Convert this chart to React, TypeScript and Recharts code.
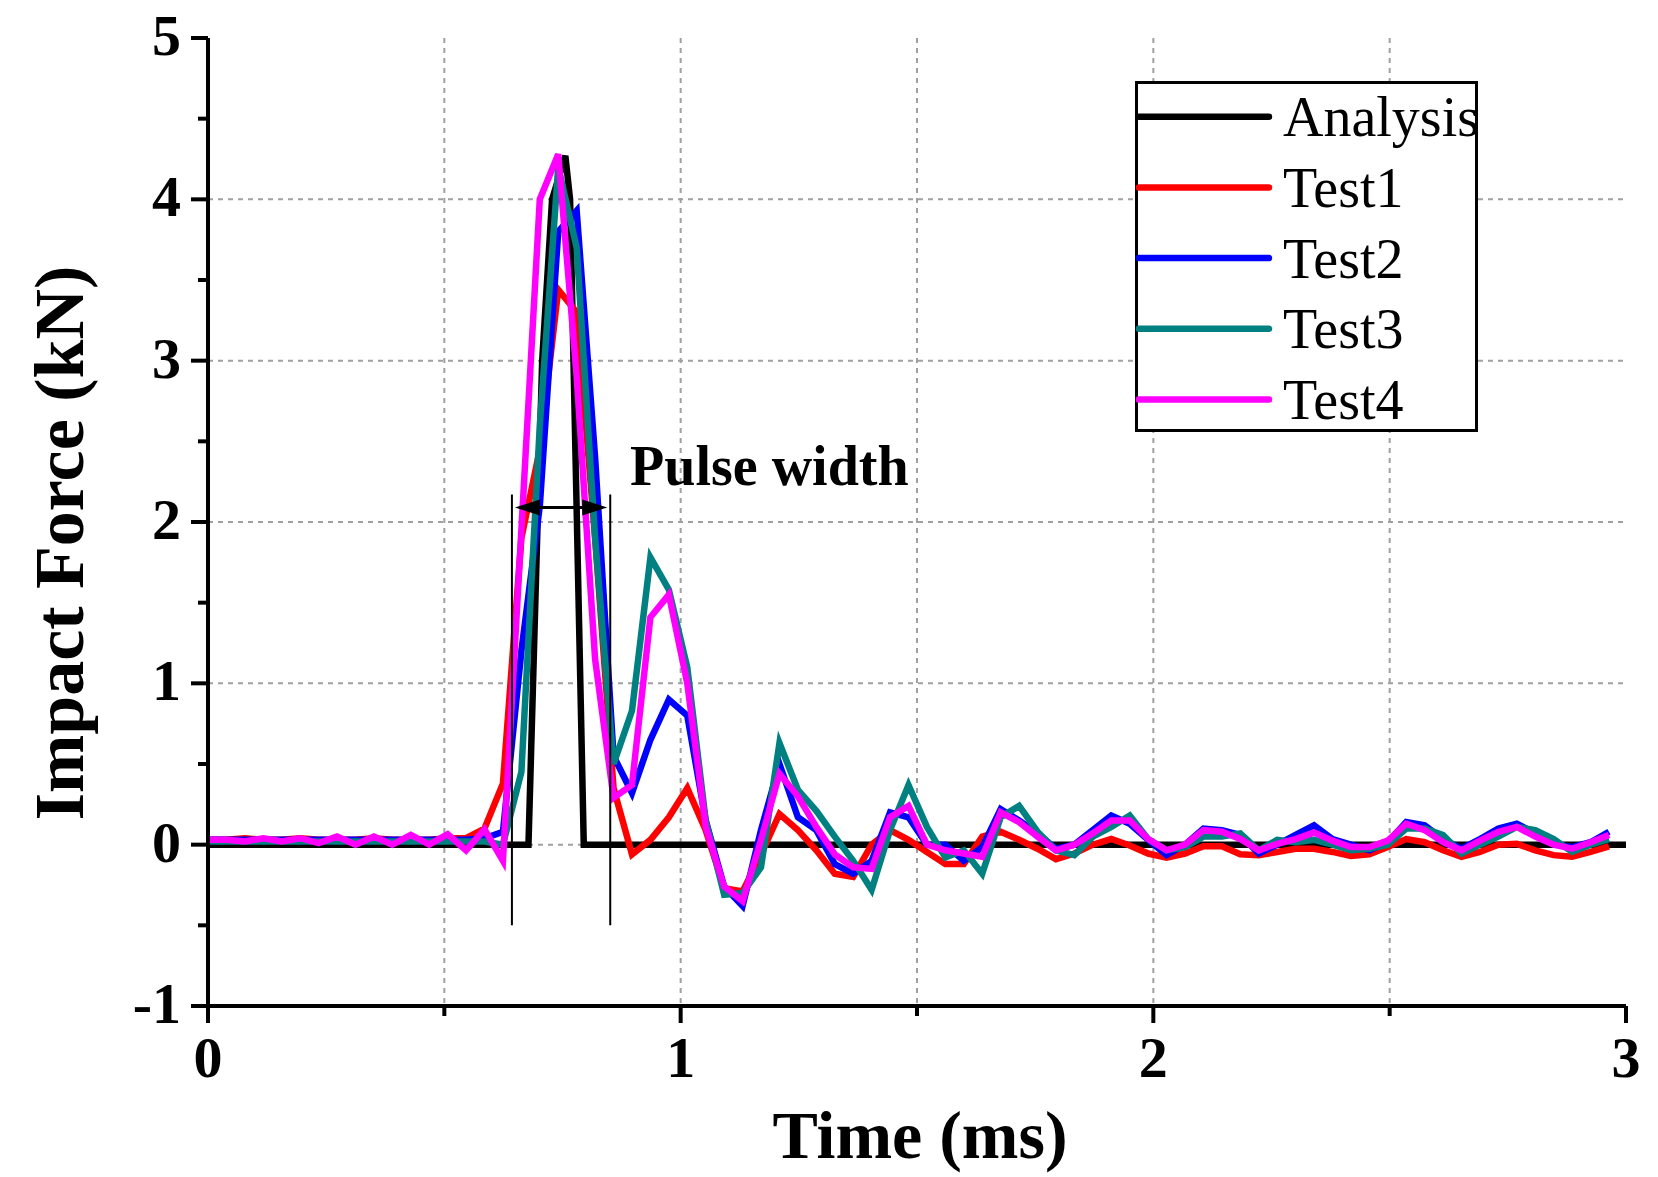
import {
  LineChart, Line, XAxis, YAxis, CartesianGrid, Legend,
  ReferenceLine, ReferenceDot, Label,
} from "recharts"

// sampled test records, one value every 0.039 ms (k = 0..76)
const TIME_STEP_MS = 0.039

const TEST1 = [
  0.03, 0.03, 0.04, 0.03, 0.03, 0.04, 0.03, 0.03, 0.03, 0.04, 0.03, 0.03, 0.03, 0.04, 0.04,
  0.10, 0.38, 1.90, 2.45, 3.44, 3.30, 1.90, 0.35, -0.06, 0.03, 0.17, 0.35,
  0.09, -0.27, -0.29, -0.06, 0.19, 0.09, -0.035, -0.18, -0.20, 0.0, 0.09, 0.03,
  -0.045, -0.12, -0.12, 0.05, 0.08, 0.03, -0.025, -0.09, -0.055, 0.0, 0.035, -0.005,
  -0.055, -0.08, -0.055, -0.01, -0.01, -0.06, -0.065, -0.045, -0.025, -0.025, -0.045, -0.07,
  -0.06, -0.015, 0.035, 0.015, -0.035, -0.075, -0.045, 0.0, 0.005, -0.035, -0.065, -0.075, -0.045, -0.01,
]
const TEST2 = [
  0.03, 0.03, 0.03, 0.03, 0.03, 0.03, 0.03, 0.03, 0.03, 0.03, 0.03, 0.03, 0.03, 0.03, 0.03,
  0.04, 0.08, 1.20, 2.10, 3.80, 3.93, 2.40, 0.55, 0.32, 0.65, 0.90, 0.80,
  0.15, -0.26, -0.38, 0.09, 0.50, 0.17, 0.09, -0.12, -0.18, -0.10, 0.20, 0.17,
  0.0, 0.0, -0.10, -0.015, 0.22, 0.15, 0.07, -0.025, 0.0, 0.09, 0.18, 0.13,
  0.03, -0.065, 0.0, 0.10, 0.09, 0.06, -0.055, 0.0, 0.06, 0.12, 0.035, 0.0,
  -0.035, 0.015, 0.14, 0.12, 0.035, -0.025, 0.035, 0.10, 0.13, 0.07, 0.005, -0.015, 0.015, 0.08,
]
const TEST3 = [
  0.02, 0.02, 0.02, 0.02, 0.02, 0.02, 0.02, 0.02, 0.02, 0.02, 0.02, 0.02, 0.02, 0.02, 0.02, 0.02,
  0.0, 0.45, 2.60, 4.20, 3.70, 1.90, 0.50, 0.83, 1.78, 1.58, 1.10,
  0.15, -0.31, -0.30, -0.14, 0.63, 0.34, 0.21, 0.05, -0.10, -0.28, 0.09, 0.37,
  0.11, -0.08, -0.035, -0.18, 0.17, 0.24, 0.08, -0.035, -0.065, 0.05, 0.11, 0.18,
  0.035, -0.035, -0.015, 0.05, 0.05, 0.07, -0.035, 0.03, 0.015, 0.03, 0.0, -0.035,
  -0.025, 0.0, 0.10, 0.10, 0.06, -0.055, 0.0, 0.05, 0.11, 0.09, 0.035, -0.045, 0.0, 0.035,
]
const TEST4 = [
  0.03, 0.03, 0.02, 0.04, 0.02, 0.04, 0.01, 0.05, 0.0, 0.05, 0.0, 0.06, 0.0, 0.065, -0.035, 0.095, -0.10,
  1.95, 4.00, 4.28, 2.90, 1.15, 0.29, 0.37, 1.41, 1.55, 1.00,
  0.11, -0.26, -0.35, 0.03, 0.44, 0.30, 0.11, -0.06, -0.14, -0.15, 0.17, 0.24,
  0.0, -0.035, -0.055, -0.075, 0.20, 0.14, 0.05, -0.035, 0.0, 0.07, 0.15, 0.15,
  0.035, -0.035, 0.0, 0.09, 0.08, 0.035, -0.035, 0.005, 0.035, 0.075, 0.025, -0.015,
  -0.015, 0.025, 0.13, 0.09, 0.015, -0.035, 0.025, 0.08, 0.11, 0.05, 0.0, -0.025, 0.015, 0.06,
]

// analysis pulse
const ANALYSIS_T = [0, 0.678, 0.707, 0.728, 0.756, 0.766, 0.795, 3.0]
const ANALYSIS_F = [0, 0, 3.0, 4.0, 4.27, 4.0, 0, 0]

const X_TICKS = [0, 0.5, 1, 1.5, 2, 2.5, 3]
const Y_TICKS = [-1, -0.5, 0, 0.5, 1, 1.5, 2, 2.5, 3, 3.5, 4, 4.5, 5]
const GRID_X = [0.5, 1, 1.5, 2, 2.5]
const GRID_Y = [0, 1, 2, 3, 4]

// pulse width markers
const PULSE_START = 0.643
const PULSE_END = 0.851
const PULSE_ARROW_Y = 2.09
const PULSE_LINE_TOP = 2.17
const PULSE_LINE_BOTTOM = -0.5

const SERIES = [
  { key: "analysis", name: "Analysis", color: "#000000" },
  { key: "test1", name: "Test1", color: "#ff0000" },
  { key: "test2", name: "Test2", color: "#0000ff" },
  { key: "test3", name: "Test3", color: "#008080" },
  { key: "test4", name: "Test4", color: "#ff00ff" },
]

const FONT = "'Liberation Serif', 'Times New Roman', serif"

function buildRows() {
  const rows = new Map<number, Record<string, number>>()
  const row = (t: number) => {
    if (!rows.has(t)) rows.set(t, { t })
    return rows.get(t)!
  }
  TEST1.forEach((_, k) => {
    const r = row(+(k * TIME_STEP_MS).toFixed(3))
    r.test1 = TEST1[k]
    r.test2 = TEST2[k]
    r.test3 = TEST3[k]
    r.test4 = TEST4[k]
  })
  ANALYSIS_T.forEach((t, i) => { row(t).analysis = ANALYSIS_F[i] })
  return [...rows.values()].sort((a, b) => a.t - b.t)
}

const data = buildRows()

function YTick({ x, y, payload }: any) {
  const major = Number.isInteger(payload.value)
  return (
    <g>
      <line x1={x - (major ? 17 : 10)} x2={x} y1={y} y2={y} stroke="#000" strokeWidth={4} />
      {major && (
        <text x={x - 27} y={y + 17} textAnchor="end" fontFamily={FONT} fontWeight="bold" fontSize={58} fill="#000">
          {payload.value}
        </text>
      )}
    </g>
  )
}

function XTick({ x, y, payload }: any) {
  const major = Number.isInteger(payload.value)
  return (
    <g>
      <line x1={x} x2={x} y1={y} y2={y + (major ? 17 : 10)} stroke="#000" strokeWidth={4} />
      {major && (
        <text x={x} y={y + 71} textAnchor="middle" fontFamily={FONT} fontWeight="bold" fontSize={58} fill="#000">
          {payload.value}
        </text>
      )}
    </g>
  )
}

function PulseArrow({ x1, y1, x2 }: any) {
  const a = x1 + 3
  const b = x2 - 3
  const len = 25
  const half = 8
  return (
    <g>
      <line x1={a + 10} x2={b - 10} y1={y1} y2={y1} stroke="#000" strokeWidth={3} />
      <polygon points={`${a},${y1} ${a + len},${y1 - half} ${a + len},${y1 + half}`} fill="#000" />
      <polygon points={`${b},${y1} ${b - len},${y1 - half} ${b - len},${y1 + half}`} fill="#000" />
    </g>
  )
}

function LegendBox() {
  return (
    <svg width={343} height={351} style={{ display: "block" }}>
      <rect x={1.5} y={1.5} width={340} height={348} fill="#fff" stroke="#000" strokeWidth={3} />
      {SERIES.map((s, i) => {
        const y = 35.7 + 70.7 * i
        return (
          <g key={s.key}>
            <line x1={4} x2={134} y1={y} y2={y} stroke={s.color} strokeWidth={6.5} strokeLinecap="round" />
            <text x={148} y={y + 19.5} fontFamily={FONT} fontSize={56} fill="#000">{s.name}</text>
          </g>
        )
      })}
    </svg>
  )
}

export default function App() {
  return (
    <div style={{ position: "absolute", left: 0, top: 0, width: 1658, height: 1177, background: "#fff" }}>
      <LineChart width={1658} height={1177} data={data} margin={{ top: 38, right: 32, left: 0, bottom: 0 }}>
        <CartesianGrid
          horizontalValues={GRID_Y}
          verticalValues={GRID_X}
          stroke="#a0a0a0"
          strokeWidth={2}
          strokeDasharray="5 5"
        />
        <XAxis
          dataKey="t"
          type="number"
          domain={[0, 3]}
          ticks={X_TICKS}
          interval={0}
          height={171}
          tickSize={0}
          tickMargin={0}
          tickLine={false}
          tick={<XTick />}
          axisLine={{ stroke: "#000", strokeWidth: 4 }}
        >
          <Label
            content={() => (
              <text x={920} y={1158} textAnchor="middle" fontFamily={FONT} fontWeight="bold" fontSize={68} fill="#000">
                Time (ms)
              </text>
            )}
          />
        </XAxis>
        <YAxis
          type="number"
          domain={[-1, 5]}
          ticks={Y_TICKS}
          interval={0}
          width={208}
          tickSize={0}
          tickMargin={0}
          tickLine={false}
          tick={<YTick />}
          axisLine={{ stroke: "#000", strokeWidth: 4 }}
        >
          <Label
            content={() => (
              <text
                transform="translate(83,543) rotate(-90)"
                textAnchor="middle"
                fontFamily={FONT}
                fontWeight="bold"
                fontSize={70}
                fill="#000"
              >
                Impact Force (kN)
              </text>
            )}
          />
        </YAxis>

        {SERIES.map(s => (
          <Line
            key={s.key}
            type="linear"
            dataKey={s.key}
            name={s.name}
            stroke={s.color}
            strokeWidth={6.5}
            dot={false}
            activeDot={false}
            connectNulls
            isAnimationActive={false}
          />
        ))}

        <ReferenceLine
          segment={[{ x: PULSE_START, y: PULSE_LINE_BOTTOM }, { x: PULSE_START, y: PULSE_LINE_TOP }]}
          stroke="#000"
          strokeWidth={2}
        />
        <ReferenceLine
          segment={[{ x: PULSE_END, y: PULSE_LINE_BOTTOM }, { x: PULSE_END, y: PULSE_LINE_TOP }]}
          stroke="#000"
          strokeWidth={2}
        />
        <ReferenceLine
          segment={[{ x: PULSE_START, y: PULSE_ARROW_Y }, { x: PULSE_END, y: PULSE_ARROW_Y }]}
          shape={<PulseArrow />}
        />
        <ReferenceDot
          x={0.893}
          y={2.23}
          r={0}
          shape={(p: any) => (
            <text x={p.cx} y={p.cy} fontFamily={FONT} fontWeight="bold" fontSize={56} fill="#000">
              Pulse width
            </text>
          )}
        />

        <Legend
          layout="vertical"
          verticalAlign="middle"
          align="center"
          content={() => <LegendBox />}
          wrapperStyle={{ left: 1135, top: 81, width: 343, height: 351 }}
        />
      </LineChart>
    </div>
  )
}
